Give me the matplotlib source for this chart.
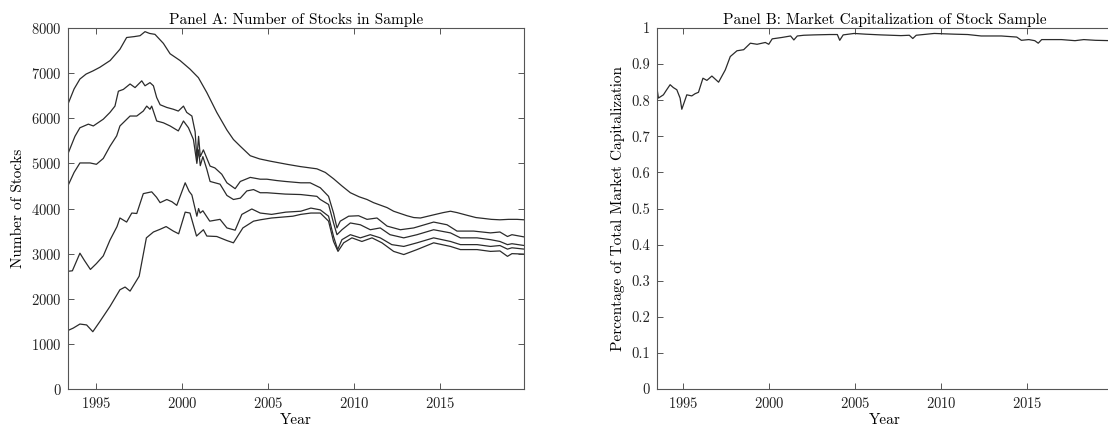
import matplotlib
matplotlib.use("Agg")
import matplotlib.pyplot as plt

plt.rcParams['font.family'] = ['cmr10', 'DejaVu Serif']
plt.rcParams['axes.formatter.use_mathtext'] = True
plt.rcParams['mathtext.fontset'] = 'cm'

# Panel A: number of stocks, five sample definitions
yr_a1 = [1993.36, 1993.7, 1994.04, 1994.4, 1994.8, 1995.2, 1995.8, 1996.37, 1996.76, 1997.2,
         1997.54, 1997.83, 1998.1, 1998.41, 1998.9, 1999.29, 1999.87, 2000.45, 2000.94, 2001.43,
         2002.01, 2002.6, 2002.98, 2003.38, 2003.96, 2004.5, 2005.12, 2006.1, 2006.87, 2007.45,
         2007.84, 2008.33, 2008.81, 2009.3, 2009.79, 2010.3, 2010.76, 2011.14, 2011.93, 2012.31,
         2013.09, 2013.48, 2013.87, 2014.64, 2015.2, 2015.62, 2016.0, 2016.59, 2017.1, 2017.56,
         2018.0, 2018.5, 2019.0, 2019.5, 2019.92]
stocks_a1 = [6330, 6650, 6870, 6980, 7050, 7130, 7280, 7530, 7790, 7810,
             7830, 7920, 7880, 7860, 7660, 7430, 7280, 7090, 6900, 6570,
             6130, 5740, 5530, 5380, 5170, 5100, 5050, 4980, 4930, 4900,
             4880, 4800, 4660, 4500, 4350, 4260, 4200, 4130, 4020, 3940,
             3840, 3800, 3790, 3860, 3910, 3940, 3910, 3850, 3800, 3780,
             3760, 3750, 3760, 3760, 3750]

yr_a2 = [1993.36, 1993.75, 1994.04, 1994.53, 1994.82, 1995.4, 1995.79, 1996.08, 1996.28, 1996.57,
         1996.96, 1997.25, 1997.64, 1997.83, 1998.12, 1998.32, 1998.51, 1998.71, 1999.1, 1999.48,
         1999.77, 2000.07, 2000.26, 2000.56, 2000.75, 2000.85, 2000.95, 2001.05, 2001.23, 2001.62,
         2001.9, 2002.3, 2002.6, 2003.08, 2003.38, 2003.96, 2004.54, 2004.93, 2005.5, 2006.0,
         2006.9, 2007.45, 2008.04, 2008.52, 2008.81, 2009.01, 2009.2, 2009.69, 2010.27, 2010.76,
         2011.34, 2011.93, 2012.7, 2013.48, 2014.64, 2015.42, 2016.0, 2016.97, 2017.95, 2018.5,
         2018.94, 2019.2, 2019.92]
stocks_a2 = [5230, 5600, 5790, 5870, 5830, 5980, 6130, 6270, 6600, 6640,
             6760, 6680, 6830, 6720, 6790, 6720, 6460, 6300, 6240, 6200,
             6160, 6270, 6130, 6050, 5700, 5100, 5600, 5150, 5300, 4940,
             4900, 4760, 4570, 4440, 4600, 4690, 4650, 4650, 4620, 4600,
             4570, 4570, 4460, 4270, 3900, 3570, 3720, 3830, 3840, 3760,
             3790, 3610, 3530, 3570, 3700, 3640, 3500, 3500, 3460, 3480,
             3380, 3420, 3370]

yr_a3 = [1993.36, 1993.7, 1994.04, 1994.63, 1995.0, 1995.4, 1995.79, 1996.18, 1996.37, 1996.96,
         1997.35, 1997.73, 1997.93, 1998.12, 1998.22, 1998.51, 1998.9, 1999.29, 1999.77, 2000.07,
         2000.36, 2000.65, 2000.85, 2000.95, 2001.05, 2001.2, 2001.43, 2001.62, 2002.2, 2002.6,
         2002.98, 2003.38, 2003.76, 2004.15, 2004.54, 2004.93, 2006.0, 2006.9, 2007.84, 2008.04,
         2008.52, 2008.81, 2009.01, 2009.3, 2009.79, 2010.37, 2010.95, 2011.53, 2012.1, 2012.9,
         2013.67, 2014.64, 2015.62, 2016.2, 2017.17, 2017.95, 2018.5, 2018.94, 2019.2, 2019.92]
stocks_a3 = [4520, 4800, 5010, 5010, 4980, 5110, 5380, 5610, 5830, 6050,
             6050, 6160, 6270, 6200, 6270, 5940, 5900, 5830, 5720, 5940,
             5790, 5530, 5000, 5300, 4950, 5150, 4870, 4600, 4540, 4290,
             4200, 4230, 4390, 4420, 4350, 4350, 4320, 4310, 4270, 4200,
             4090, 3680, 3420, 3530, 3680, 3640, 3530, 3570, 3420, 3350,
             3420, 3530, 3460, 3350, 3350, 3310, 3270, 3200, 3220, 3180]

yr_a4 = [1993.36, 1993.6, 1994.04, 1994.3, 1994.65, 1995.0, 1995.4, 1995.79, 1996.2, 1996.37,
         1996.76, 1997.06, 1997.35, 1997.73, 1998.22, 1998.5, 1998.71, 1999.1, 1999.4, 1999.68,
         2000.17, 2000.4, 2000.56, 2000.85, 2000.95, 2001.04, 2001.2, 2001.6, 2002.2, 2002.6,
         2003.08, 2003.47, 2004.05, 2004.54, 2005.2, 2006.03, 2006.9, 2007.49, 2008.04, 2008.52,
         2008.81, 2009.05, 2009.3, 2009.79, 2010.37, 2010.95, 2011.53, 2012.2, 2012.9, 2013.67,
         2014.64, 2015.62, 2016.2, 2017.17, 2017.95, 2018.5, 2018.94, 2019.2, 2019.92]
stocks_a4 = [2610, 2620, 3010, 2850, 2650, 2780, 2950, 3300, 3600, 3790,
             3700, 3900, 3890, 4330, 4370, 4250, 4130, 4200, 4150, 4070,
             4570, 4380, 4300, 3830, 4000, 3900, 3950, 3720, 3760, 3570,
             3520, 3870, 3990, 3900, 3870, 3920, 3940, 4010, 3970, 3830,
             3380, 3090, 3310, 3420, 3350, 3420, 3350, 3200, 3160, 3240,
             3350, 3270, 3200, 3200, 3160, 3180, 3100, 3130, 3100]

yr_a5 = [1993.36, 1993.65, 1994.04, 1994.43, 1994.79, 1995.21, 1995.79, 1996.37, 1996.67, 1996.96,
         1997.49, 1997.91, 1998.32, 1998.71, 1999.06, 1999.48, 1999.79, 2000.17, 2000.45, 2000.83,
         2001.23, 2001.43, 2002.01, 2002.6, 2002.98, 2003.53, 2004.15, 2004.54, 2005.2, 2006.44,
         2006.9, 2007.49, 2008.04, 2008.52, 2008.81, 2009.07, 2009.4, 2009.88, 2010.46, 2011.05,
         2011.63, 2012.31, 2012.9, 2013.67, 2014.64, 2015.62, 2016.2, 2017.17, 2017.95, 2018.5,
         2018.94, 2019.2, 2019.92]
stocks_a5 = [1300, 1350, 1440, 1420, 1270, 1500, 1830, 2200, 2260, 2170,
             2500, 3350, 3480, 3540, 3600, 3500, 3440, 3920, 3900, 3390,
             3530, 3390, 3380, 3290, 3240, 3570, 3720, 3750, 3790, 3830,
             3870, 3900, 3900, 3720, 3270, 3050, 3240, 3350, 3270, 3350,
             3240, 3050, 2980, 3090, 3240, 3160, 3090, 3090, 3050, 3060,
             2940, 3000, 2990]

# Panel B: share of total market capitalization covered by the sample
yr_b = [1993.45, 1993.55, 1993.84, 1994.03, 1994.23, 1994.42, 1994.62, 1994.81, 1994.91, 1995.1,
        1995.2, 1995.49, 1995.68, 1995.88, 1996.14, 1996.37, 1996.66, 1997.05, 1997.44, 1997.73,
        1998.12, 1998.51, 1998.9, 1999.29, 1999.77, 1999.97, 2000.17, 2000.75, 2001.24, 2001.43,
        2001.63, 2002.01, 2002.6, 2003.5, 2003.96, 2004.1, 2004.3, 2004.94, 2005.6, 2006.49,
        2007.66, 2008.15, 2008.35, 2008.55, 2009.6, 2010.77, 2011.55, 2012.33, 2013.5, 2014.4,
        2014.67, 2015.1, 2015.45, 2015.65, 2015.85, 2017.0, 2017.79, 2018.3, 2018.98, 2019.92]
cap_b = [0.838, 0.806, 0.815, 0.829, 0.843, 0.835, 0.829, 0.806, 0.775, 0.801,
         0.815, 0.812, 0.818, 0.822, 0.861, 0.855, 0.867, 0.850, 0.884, 0.921,
         0.937, 0.940, 0.958, 0.955, 0.960, 0.955, 0.970, 0.974, 0.978, 0.967,
         0.978, 0.980, 0.981, 0.982, 0.982, 0.966, 0.981, 0.985, 0.983, 0.981,
         0.979, 0.980, 0.971, 0.980, 0.985, 0.983, 0.982, 0.978, 0.978, 0.975,
         0.966, 0.968, 0.965, 0.958, 0.968, 0.968, 0.965, 0.968, 0.966, 0.965]

year_ticks = [1995, 2000, 2005, 2010, 2015]
line_col = '#2b2b2b'
spine_col = '#555555'

fig = plt.figure(figsize=(11.08, 4.32), dpi=100)
ax1 = fig.add_axes([0.0616, 0.0995, 0.4116, 0.8356])
# right panel runs just past the image edge, as in the cropped original
ax2 = fig.add_axes([0.5927, 0.0995, 0.4118, 0.8356])

for yr, val in [(yr_a1, stocks_a1), (yr_a2, stocks_a2), (yr_a3, stocks_a3),
                (yr_a4, stocks_a4), (yr_a5, stocks_a5)]:
    ax1.plot(yr, val, color=line_col, linewidth=0.9)
ax2.plot(yr_b, cap_b, color=line_col, linewidth=0.9)

ax1.set_xlim(1993.36, 2019.92)
ax1.set_ylim(0, 8000)
ax1.set_yticks(range(0, 8001, 1000))
ax1.set_title("Panel A: Number of Stocks in Sample", fontsize=11, pad=3)
ax1.set_ylabel("Number of Stocks", fontsize=11)

ax2.set_xlim(1993.45, 2020.0)
ax2.set_ylim(0, 1)
ax2.set_yticks([0, 0.1, 0.2, 0.3, 0.4, 0.5, 0.6, 0.7, 0.8, 0.9, 1])
ax2.set_yticklabels(['0', '0.1', '0.2', '0.3', '0.4', '0.5', '0.6', '0.7', '0.8', '0.9', '1'])
ax2.set_title("Panel B: Market Capitalization of Stock Sample", fontsize=11, pad=3)
ax2.set_ylabel("Percentage of Total Market Capitalization", fontsize=11)

for ax in (ax1, ax2):
    ax.set_xticks(year_ticks)
    ax.set_xlabel("Year", fontsize=11, labelpad=2)
    ax.tick_params(direction='in', top=True, right=True, length=4, width=0.7,
                   color=spine_col, labelsize=10.5, labelcolor='#222222', pad=5)
    for s in ax.spines.values():
        s.set_color(spine_col)
        s.set_linewidth(0.8)

ax2.tick_params(axis='y', right=False)

fig.savefig("out.png", dpi=100)
